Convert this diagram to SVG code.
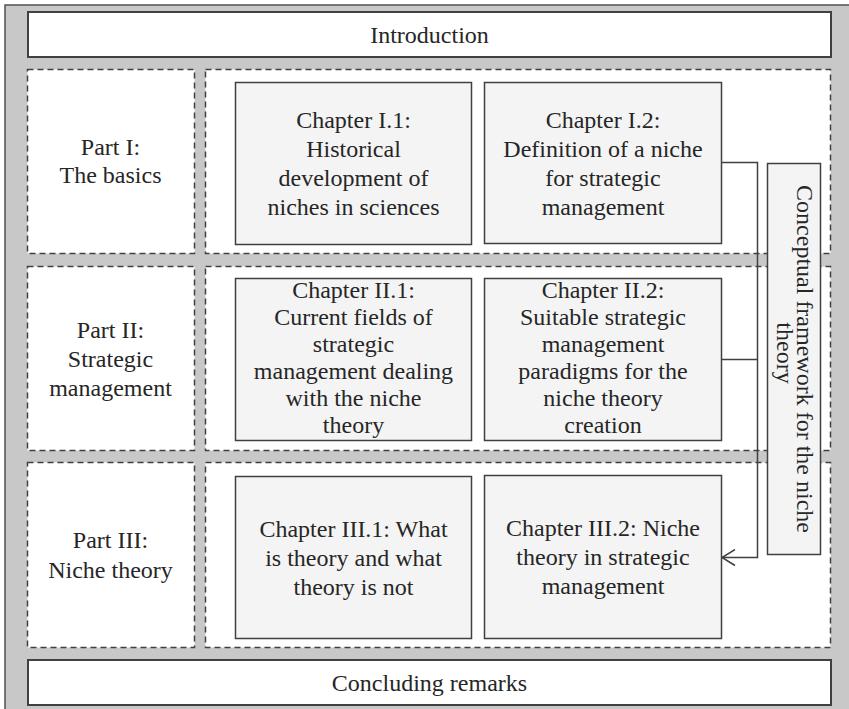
<svg xmlns="http://www.w3.org/2000/svg" width="849" height="709" viewBox="0 0 849 709">
  <style>
    text { font-family: "Liberation Serif", "Times New Roman", serif; font-size: 24px; fill: #262626; text-anchor: middle; }
    .frame { fill: #c8c8c8; stroke: #505050; stroke-width: 1.5; }
    .band { fill: #ffffff; stroke: #404040; stroke-width: 2; }
    .part { fill: #ffffff; stroke: #404040; stroke-width: 1.5; stroke-dasharray: 6 4; }
    .chapter { fill: #f4f4f4; stroke: #404040; stroke-width: 1.5; }
    .link { fill: none; stroke: #404040; stroke-width: 1.5; }
  </style>
  <defs>
    <marker id="open-arrow" viewBox="0 0 15 18" refX="14" refY="9" markerWidth="15" markerHeight="18" markerUnits="userSpaceOnUse" orient="auto">
      <path d="M1,1 L14,9 L1,17" fill="none" stroke="#404040" stroke-width="1.5"/>
    </marker>
  </defs>

  <!-- outer frame -->
  <rect class="frame" x="5" y="5" width="850" height="710"/>

  <g id="introduction">
    <rect class="band" x="28" y="12" width="803" height="45"/>
    <text x="429.5" y="43">Introduction</text>
  </g>

  <!-- Part I -->
  <g id="part1">
    <rect class="part" x="27.5" y="69.5" width="167" height="184"/>
    <text x="110.5" y="155">Part I:</text>
    <text x="110.5" y="183">The basics</text>
  </g>
  <g id="part1-area">
    <rect class="part" x="205.5" y="69.5" width="625" height="184"/>
  </g>
  <g id="ch1-1">
    <rect class="chapter" x="235.5" y="82.5" width="236" height="162"/>
    <text x="353.5" y="128">Chapter I.1:</text>
    <text x="353.5" y="157">Historical</text>
    <text x="353.5" y="186">development of</text>
    <text x="353.5" y="215">niches in sciences</text>
  </g>
  <g id="ch1-2">
    <rect class="chapter" x="484.5" y="82.5" width="237" height="161"/>
    <text x="603" y="128">Chapter I.2:</text>
    <text x="603" y="157">Definition of a niche</text>
    <text x="603" y="186">for strategic</text>
    <text x="603" y="215">management</text>
  </g>

  <!-- Part II -->
  <g id="part2">
    <rect class="part" x="27.5" y="266.5" width="167" height="184"/>
    <text x="110.5" y="338">Part II:</text>
    <text x="110.5" y="367">Strategic</text>
    <text x="110.5" y="396">management</text>
  </g>
  <g id="part2-area">
    <rect class="part" x="205.5" y="266.5" width="625" height="184"/>
  </g>
  <g id="ch2-1">
    <rect class="chapter" x="235.5" y="278.5" width="236" height="162"/>
    <text x="353.5" y="298">Chapter II.1:</text>
    <text x="353.5" y="325">Current fields of</text>
    <text x="353.5" y="352">strategic</text>
    <text x="353.5" y="379">management dealing</text>
    <text x="353.5" y="406">with the niche</text>
    <text x="353.5" y="433">theory</text>
  </g>
  <g id="ch2-2">
    <rect class="chapter" x="484.5" y="278.5" width="237" height="162"/>
    <text x="603" y="298">Chapter II.2:</text>
    <text x="603" y="325">Suitable strategic</text>
    <text x="603" y="352">management</text>
    <text x="603" y="379">paradigms for the</text>
    <text x="603" y="406">niche theory</text>
    <text x="603" y="433">creation</text>
  </g>

  <!-- Part III -->
  <g id="part3">
    <rect class="part" x="27.5" y="462.5" width="167" height="185"/>
    <text x="110.5" y="548">Part III:</text>
    <text x="110.5" y="578">Niche theory</text>
  </g>
  <g id="part3-area">
    <rect class="part" x="205.5" y="462.5" width="625" height="185"/>
  </g>
  <g id="ch3-1">
    <rect class="chapter" x="235.5" y="476.5" width="236" height="162"/>
    <text x="353.5" y="537">Chapter III.1: What</text>
    <text x="353.5" y="566">is theory and what</text>
    <text x="353.5" y="595">theory is not</text>
  </g>
  <g id="ch3-2">
    <rect class="chapter" x="484.5" y="475.5" width="237" height="163"/>
    <text x="603" y="536">Chapter III.2: Niche</text>
    <text x="603" y="565">theory in strategic</text>
    <text x="603" y="594">management</text>
  </g>

  <!-- vertical side box -->
  <g id="conceptual-framework">
    <rect class="chapter" x="767.5" y="163.5" width="53" height="391"/>
    <text transform="translate(797,359) rotate(90)">Conceptual framework for the niche</text>
    <text transform="translate(777,353) rotate(90)">theory</text>
  </g>

  <g id="connectors">
    <path class="link" d="M721.5,162.5 H757.5 V557.5 H722" marker-end="url(#open-arrow)"/>
    <path class="link" d="M721.5,359.5 H757.5"/>
  </g>

  <g id="concluding-remarks">
    <rect class="band" x="28" y="660" width="803" height="45"/>
    <text x="429.5" y="691">Concluding remarks</text>
  </g>
</svg>
